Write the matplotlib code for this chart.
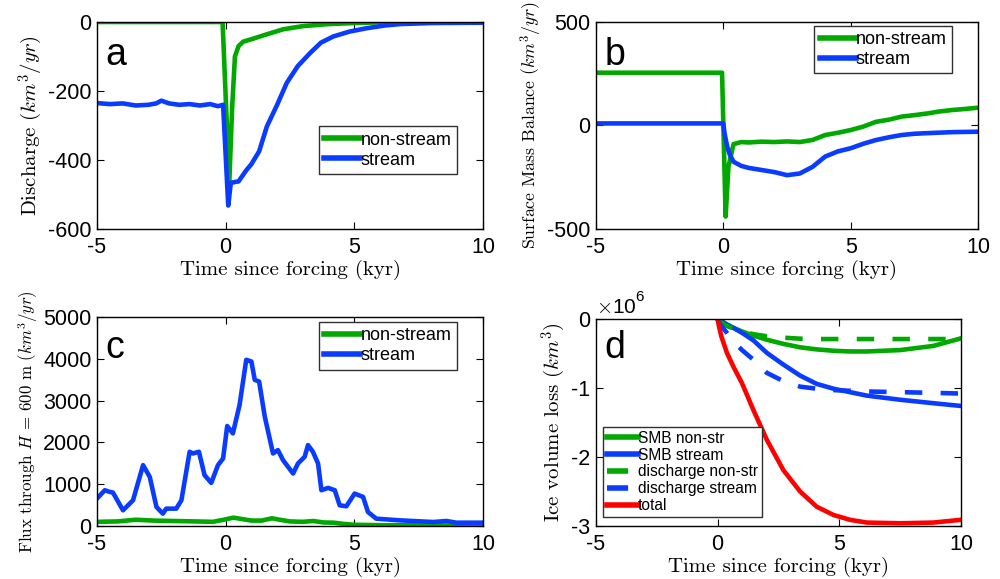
import numpy as np
import matplotlib
matplotlib.use("Agg")
import matplotlib.pyplot as plt

plt.rcParams['font.family'] = ['Liberation Sans', 'DejaVu Sans']
plt.rcParams['mathtext.fontset'] = 'cm'
plt.rcParams['axes.unicode_minus'] = False

green = '#00a800'
blue = '#0a3cff'
red = '#ff0000'

# (a) discharge, km^3/yr
t_dis_ns = [-5, -0.12, 0.14, 0.25, 0.36, 0.5, 0.68, 1.0, 1.5, 2.24, 3.0, 4.0, 5.0, 6.0, 8.0, 10]
dis_ns = [0, 0, -467, -250, -100, -70, -57, -50, -38, -21, -12, -6, -3, -1, 0, 0]
t_dis_s = [-5, -4.5, -4.0, -3.5, -3.0, -2.7, -2.5, -2.2, -1.8, -1.4, -1.0, -0.6, -0.3, -0.1,
           0.1, 0.2, 0.5, 0.8, 1.0, 1.3, 1.6, 2.0, 2.37, 2.8, 3.28, 3.7, 4.18, 4.8, 5.48, 6.2, 6.78, 8.0, 10]
dis_s = [-235, -238, -236, -242, -240, -236, -228, -236, -240, -238, -242, -238, -244, -240,
         -532, -466, -462, -430, -412, -375, -303, -240, -177, -128, -90, -60, -42, -28, -18, -10, -6, -3, -2]

# (b) surface mass balance, km^3/yr
t_smb_ns = [-5, -0.05, 0.09, 0.2, 0.4, 0.7, 1.0, 1.5, 2.0, 2.5, 3.0, 3.5, 4.0, 4.5, 5.0, 5.5,
            6.0, 6.5, 7.0, 7.5, 8.0, 8.5, 9.0, 9.5, 10]
smb_ns = [255, 255, -440, -200, -90, -80, -82, -78, -80, -77, -80, -70, -46, -35, -22, -5,
          18, 28, 43, 50, 58, 68, 75, 80, 86]
t_smb_s = [-5, 0.0, 0.05, 0.15, 0.25, 0.4, 0.7, 1.0, 1.5, 2.0, 2.5, 3.0, 3.5, 4.0, 4.5, 5.0,
           5.5, 6.0, 6.5, 7.0, 7.5, 8.0, 9.0, 10]
smb_s = [10, 10, -40, -100, -140, -175, -195, -205, -215, -225, -240, -232, -200, -150, -125, -110,
         -88, -70, -57, -46, -40, -37, -32, -30]

# (c) flux through H = 600 m, km^3/yr
t_flux_s = [-5, -4.7, -4.5, -4.38, -3.99, -3.6, -3.47, -3.21, -2.95, -2.69, -2.44, -2.31, -1.92,
            -1.72, -1.4, -1.27, -1.04, -0.82, -0.56, -0.3, -0.1, 0.06, 0.28, 0.54, 0.8, 1.0,
            1.13, 1.3, 1.52, 1.84, 2.03, 2.23, 2.62, 2.81, 3.07, 3.2, 3.39, 3.59, 3.72, 3.98,
            4.24, 4.43, 4.69, 5.01, 5.34, 5.53, 5.85, 6.76, 8.06, 8.58, 8.96, 10]
flux_s = [656, 856, 816, 800, 376, 616, 896, 1456, 1176, 456, 296, 416, 416,
          616, 1776, 1736, 1776, 1216, 1032, 1456, 1616, 2392, 2216, 2896, 3976, 3936,
          3496, 3456, 2616, 1736, 1816, 1576, 1256, 1496, 1656, 1936, 1776, 1496, 856, 912,
          856, 496, 472, 776, 696, 336, 176, 136, 96, 120, 80, 80]
t_flux_ns = [-5, -4.2, -3.5, -2.8, -2.0, -1.2, -0.5, 0.0, 0.3, 0.6, 1.0, 1.4, 1.8, 2.1, 2.5,
             3.0, 3.4, 3.8, 4.2, 4.6, 5.0, 6.0, 8.0, 10]
flux_ns = [100, 110, 150, 130, 120, 110, 100, 160, 200, 170, 130, 130, 185, 150, 110,
           100, 120, 85, 80, 50, 30, 20, 15, 10]

# (d) cumulative ice volume loss, 10^6 km^3
t_vol = [0, 0.05, 0.15, 0.38, 0.66, 1.0, 1.47, 2.02, 2.7, 3.39, 4.07, 4.76, 5.44, 6.13, 7.5, 8.86, 10]
vol_total = [0, -0.10, -0.25, -0.49, -0.70, -0.93, -1.32, -1.75, -2.19, -2.50, -2.72, -2.84,
             -2.91, -2.95, -2.96, -2.95, -2.91]
vol_smb_ns = [0, -0.01, -0.03, -0.08, -0.13, -0.18, -0.24, -0.30, -0.36, -0.41, -0.44, -0.46,
              -0.47, -0.47, -0.45, -0.39, -0.28]
vol_smb_s = [0, -0.01, -0.03, -0.08, -0.13, -0.20, -0.31, -0.49, -0.66, -0.82, -0.94, -1.01,
             -1.06, -1.11, -1.17, -1.22, -1.26]
vol_dis_ns = [0, -0.02, -0.05, -0.10, -0.14, -0.18, -0.22, -0.25, -0.27, -0.285, -0.29, -0.29,
              -0.29, -0.29, -0.29, -0.29, -0.29]
vol_dis_s = [0, -0.04, -0.10, -0.20, -0.33, -0.45, -0.59, -0.78, -0.90, -0.98, -1.01, -1.03,
             -1.04, -1.05, -1.06, -1.07, -1.08]

xlab = 'Time since forcing (kyr)'
lw = 3.3
dash = (0, (3.8, 4.0))

fig = plt.figure(figsize=(10, 5.79), dpi=100)
ax_a = fig.add_axes([0.097, 0.6045, 0.386, 0.3575])
ax_b = fig.add_axes([0.596, 0.6045, 0.382, 0.3575])
ax_c = fig.add_axes([0.097, 0.0915, 0.386, 0.361])
ax_d = fig.add_axes([0.596, 0.0915, 0.365, 0.3575])


def style(ax, ylabel, ysize):
    ax.set_xlim(-5, 10)
    ax.set_xticks([-5, 0, 5, 10])
    ax.tick_params(direction='in', top=True, right=True, length=5, width=0.8,
                   labelsize=15.5, pad=4)
    ax.tick_params(axis='x', pad=6)
    for s in ax.spines.values():
        s.set_linewidth(1.0)
    ax.set_xlabel(xlab, fontfamily='cmr10', fontsize=15, labelpad=1)
    ax.set_ylabel(ylabel, fontfamily='cmr10', fontsize=ysize, labelpad=2)


def legend(ax, loc, anchor, fs=13, spacing=0.15, pad=0.3):
    leg = ax.legend(loc=loc, bbox_to_anchor=anchor, fontsize=fs, handlelength=2.0,
                    handletextpad=0.0, borderpad=pad, labelspacing=spacing,
                    fancybox=False, framealpha=1, borderaxespad=0)
    leg.get_frame().set_edgecolor('#303030')
    leg.get_frame().set_linewidth(1.0)
    for h in leg.get_lines():
        h.set_linewidth(4.0)
    return leg


def letter(ax, s, y):
    ax.text(0.022, y, s, transform=ax.transAxes, fontsize=27, va='center', ha='left')


# a
ax_a.plot(t_dis_ns, dis_ns, color=green, lw=lw, label='non-stream')
ax_a.plot(t_dis_s, dis_s, color=blue, lw=lw, label='stream')
ax_a.set_ylim(-600, 0)
ax_a.set_yticks([-600, -400, -200, 0])
style(ax_a, r'Discharge $(km^3/yr)$', 15)
legend(ax_a, 'lower left', (0.575, 0.266))
letter(ax_a, 'a', 0.84)

# b
ax_b.plot(t_smb_ns, smb_ns, color=green, lw=lw, label='non-stream')
ax_b.plot(t_smb_s, smb_s, color=blue, lw=lw, label='stream')
ax_b.set_ylim(-500, 500)
ax_b.set_yticks([-500, 0, 500])
style(ax_b, r'Surface Mass Balance $(km^3/yr)$', 12.8)
legend(ax_b, 'upper left', (0.571, 0.981))
letter(ax_b, 'b', 0.84)

# c
ax_c.plot(t_flux_ns, flux_ns, color=green, lw=lw, label='non-stream')
ax_c.plot(t_flux_s, flux_s, color=blue, lw=lw, label='stream')
ax_c.set_ylim(0, 5000)
ax_c.set_yticks([0, 1000, 2000, 3000, 4000, 5000])
style(ax_c, r'Flux through $H$ = 600 m $(km^3/yr)$', 12.2)
legend(ax_c, 'upper left', (0.575, 0.976))
letter(ax_c, 'c', 0.85)

# d
ax_d.plot(t_vol, vol_smb_ns, color=green, lw=lw, label='SMB non-str')
ax_d.plot(t_vol, vol_smb_s, color=blue, lw=lw, label='SMB stream')
ax_d.plot(t_vol, vol_dis_ns, color=green, lw=lw, ls=dash, label='discharge non-str')
ax_d.plot(t_vol, vol_dis_s, color=blue, lw=lw, ls=dash, label='discharge stream')
ax_d.plot(t_vol, vol_total, color=red, lw=lw, label='total')
ax_d.set_ylim(-3, 0)
ax_d.set_yticks([-3, -2, -1, 0])
style(ax_d, r'Ice volume loss $(km^3)$', 15)
legend(ax_d, 'lower left', (0.019, 0.043), fs=11.2, spacing=0.12, pad=0.25)
letter(ax_d, 'd', 0.86)
ax_d.text(0.0, 1.01, r'$\times$10', transform=ax_d.transAxes, fontsize=15, va='bottom')
ax_d.text(0.108, 1.075, '6', transform=ax_d.transAxes, fontsize=11, va='bottom')

fig.savefig('out.png', dpi=100)
